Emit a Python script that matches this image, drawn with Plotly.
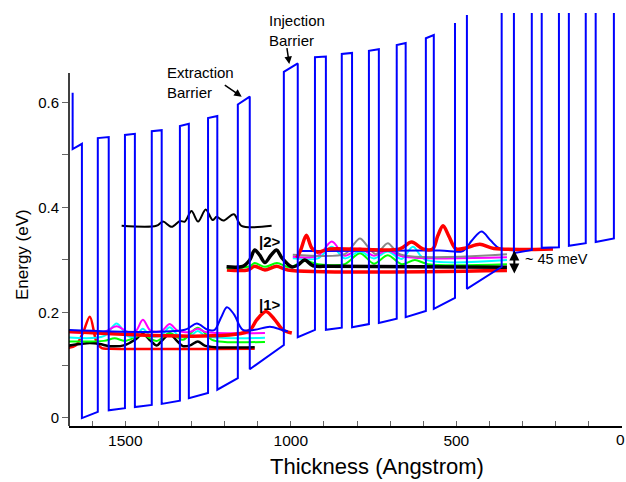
import plotly.graph_objects as go

# ---------------- data (Thickness in Angstrom, Energy in eV) ----------------
band_profile = [
    (1659, 0.618), (1659, 0.511), (1631, 0.521), (1631, -0.001), (1583, 0.011),
    (1583, 0.532), (1550, 0.534), (1550, 0.014), (1501, 0.018),
    (1501, 0.538), (1471, 0.540), (1471, 0.020), (1420, 0.024),
    (1420, 0.545), (1390, 0.547), (1390, 0.026), (1335, 0.032),
    (1335, 0.555), (1308, 0.559), (1308, 0.037), (1250, 0.047),
    (1250, 0.570), (1222, 0.574), (1222, 0.053), (1160, 0.075),
    (1160, 0.596), (1124, 0.611), (1124, 0.092), (1021, 0.138),
    (1021, 0.658), (979, 0.674), (979, 0.153), (927, 0.167),
    (927, 0.686), (894, 0.687), (894, 0.167), (846, 0.171),
    (846, 0.692), (815, 0.694), (815, 0.172), (764, 0.178),
    (764, 0.698), (734, 0.701), (734, 0.180), (680, 0.188),
    (680, 0.709), (653, 0.713), (653, 0.191), (592, 0.203),
    (592, 0.722), (568, 0.728), (568, 0.207), (504, 0.228),
    (504, 0.751), (None, None), (468, 0.766), (468, 0.245), (363, 0.287),
    (363, 0.80), (326, 0.80), (326, 0.313), (272, 0.319),
    (272, 0.80), (242, 0.80), (242, 0.323), (190, 0.324),
    (190, 0.80), (160, 0.80), (160, 0.327), (109, 0.332),
    (109, 0.80), (79, 0.80), (79, 0.334), (24, 0.341), (24, 0.80),
]

# lower states (left period)
wf_red_low = [(1680, 0.132), (1650, 0.137), (1628, 0.161), (1607, 0.192), (1586, 0.142),
              (1571, 0.132), (1547, 0.131), (1109, 0.131)]
wf_black_low = [(1680, 0.136), (1637, 0.140), (1607, 0.142), (1577, 0.140), (1547, 0.136),
                (1501, 0.138), (1471, 0.148), (1447, 0.159), (1423, 0.146), (1405, 0.137),
                (1390, 0.146), (1366, 0.159), (1344, 0.146), (1326, 0.136), (1302, 0.138),
                (1281, 0.145), (1260, 0.137), (1229, 0.134), (1109, 0.134)]
wf_green_low = [(1680, 0.145), (1565, 0.146), (1532, 0.151), (1501, 0.146), (1447, 0.157),
                (1405, 0.146), (1366, 0.161), (1326, 0.148), (1281, 0.171), (1238, 0.148),
                (1199, 0.144), (1078, 0.144)]
wf_cyan_low = [(1680, 0.153), (1565, 0.155), (1526, 0.179), (1492, 0.155), (1468, 0.155),
               (1447, 0.169), (1423, 0.155), (1390, 0.157), (1366, 0.172), (1341, 0.157),
               (1305, 0.155), (1281, 0.165), (1257, 0.155), (1078, 0.152)]
wf_magenta_low = [(1680, 0.163), (1565, 0.163), (1526, 0.174), (1492, 0.163), (1468, 0.165),
                  (1447, 0.186), (1423, 0.165), (1390, 0.165), (1366, 0.178), (1341, 0.165),
                  (1305, 0.163), (1281, 0.169), (1257, 0.163), (1078, 0.161)]
wf_red_1 = [(1680, 0.164), (1130, 0.164), (1103, 0.186), (1075, 0.202), (1048, 0.186),
            (1024, 0.167), (997, 0.161)]
wf_blue_low = [(1680, 0.167), (1320, 0.167), (1284, 0.179), (1251, 0.167), (1230, 0.167),
               (1211, 0.190), (1193, 0.210), (1172, 0.197), (1145, 0.167), (1109, 0.167),
               (1063, 0.173), (1027, 0.167), (1009, 0.164)]
wf_black_upper = [(1511, 0.365), (1406, 0.365), (1386, 0.373), (1360, 0.363), (1335, 0.374),
                  (1320, 0.373), (1300, 0.393), (1280, 0.373), (1257, 0.396), (1236, 0.376),
                  (1224, 0.382), (1204, 0.375), (1172, 0.387), (1149, 0.365), (1058, 0.365)]

# injector / upper states (right period)
wf_red_inj_low = [(1193, 0.281), (1130, 0.281), (1109, 0.288), (1078, 0.281), (1043, 0.288),
                  (1009, 0.281), (347, 0.280)]
wf_green_inj = [(1193, 0.284), (1124, 0.288), (1109, 0.294), (1078, 0.287), (1042, 0.294),
                (1003, 0.286), (958, 0.298), (918, 0.292), (837, 0.292), (791, 0.313),
                (749, 0.293), (707, 0.309), (665, 0.292), (625, 0.300), (586, 0.292), (347, 0.292)]
wf_black_2 = [(1194, 0.287), (1145, 0.288), (1124, 0.300), (1109, 0.319), (1094, 0.309),
              (1078, 0.295), (1060, 0.309), (1043, 0.319), (1027, 0.304), (998, 0.287),
              (979, 0.290), (958, 0.300), (933, 0.289), (882, 0.288), (347, 0.286)]
wf_cyan_inj = [(994, 0.303), (918, 0.303), (876, 0.325), (837, 0.303), (791, 0.316),
               (749, 0.303), (707, 0.316), (665, 0.302), (631, 0.325), (595, 0.301), (347, 0.300)]
wf_magenta_inj = [(994, 0.306), (918, 0.308), (876, 0.335), (837, 0.308), (791, 0.322),
                  (749, 0.308), (707, 0.319), (665, 0.307), (347, 0.305)]
wf_gray_inj = [(994, 0.310), (837, 0.311), (816, 0.325), (791, 0.341), (767, 0.325),
               (743, 0.311), (707, 0.332), (671, 0.311), (347, 0.311)]
wf_blue_inj = [(973, 0.317), (550, 0.318), (480, 0.317), (453, 0.337), (424, 0.354),
               (396, 0.337), (369, 0.322), (233, 0.320)]
wf_red_inj_top = [(982, 0.304), (970, 0.319), (953, 0.347), (937, 0.323), (921, 0.315),
                  (882, 0.321), (671, 0.321), (635, 0.334), (601, 0.321), (571, 0.321),
                  (556, 0.346), (540, 0.365), (523, 0.346), (501, 0.321), (471, 0.323),
                  (429, 0.330), (387, 0.322), (208, 0.321)]

x_major_ticks = [1500, 1000, 500]
x_end_label = "0"
y_major_ticks = [0, 0.2, 0.4, 0.6]

# ---------------- figure ----------------
W, H = 626, 482
ML, MR, MT, MB = 69, 4, 13, 56
PW, PH = W - ML - MR, H - MT - MB
FONT = "Liberation Sans, Arial, Helvetica, sans-serif"
XMAX, XMIN = 1670, -0.5


def px(xp):
    return (xp - ML) / PW


def py(yp):
    return (H - MB - yp) / PH


fig = go.Figure()


def add_line(points, color, width, spline=True):
    xs = [p[0] for p in points]
    ys = [p[1] for p in points]
    fig.add_trace(go.Scatter(
        x=xs, y=ys, mode="lines", showlegend=False, hoverinfo="skip",
        line=dict(color=color, width=width, shape="spline" if spline else "linear",
                  smoothing=0.9 if spline else 0),
        connectgaps=False,
    ))


RED, BLUE, MAG, CYAN, GREEN, GRAY = "#ff0000", "#0000ff", "#ff00ff", "#00ffff", "#00ff00", "#888888"

add_line(wf_red_low, RED, 2.5)
add_line(wf_black_low, "black", 2.5)
add_line(wf_green_low, GREEN, 2)
add_line(wf_cyan_low, CYAN, 2)
add_line(wf_magenta_low, MAG, 2)
add_line(wf_red_1, RED, 3.5)
add_line(wf_blue_low, BLUE, 2)
add_line(wf_black_upper, "black", 2)

add_line(wf_red_inj_low, RED, 3.5)
add_line(wf_green_inj, GREEN, 2)
add_line(wf_cyan_inj, CYAN, 2)
add_line(wf_magenta_inj, MAG, 2)
add_line(wf_gray_inj, GRAY, 2)
add_line(wf_black_2, "black", 3.5)
add_line(wf_blue_inj, BLUE, 2)
add_line(wf_red_inj_top, RED, 3.5)

add_line(band_profile, BLUE, 2, spline=False)

x_tickvals = list(range(0, 1700, 100))
x_ticktext = [str(v) if v in x_major_ticks else "" for v in x_tickvals]
y_tickvals = [0, 0.1, 0.2, 0.3, 0.4, 0.5, 0.6]
y_ticktext = [("0" if v == 0 else str(v)) if v in y_major_ticks else "" for v in y_tickvals]

fig.update_layout(
    width=W, height=H,
    margin=dict(l=ML, r=MR, t=MT, b=MB),
    paper_bgcolor="white", plot_bgcolor="white",
    font=dict(family=FONT, size=15, color="black"),
    xaxis=dict(range=[XMAX, XMIN], showgrid=False, zeroline=False,
               showline=True, linecolor="black", linewidth=1.5,
               tickmode="array", tickvals=x_tickvals, ticktext=x_ticktext,
               ticks="inside", ticklen=5, tickcolor="#666", tickwidth=1,
               tickfont=dict(size=15.5, family=FONT)),
    yaxis=dict(range=[-0.016, 0.770], showgrid=False, zeroline=False,
               showline=False,
               tickmode="array", tickvals=y_tickvals, ticktext=y_ticktext,
               ticks="outside", ticklen=6, tickcolor="#666", tickwidth=1,
               tickfont=dict(size=15, family=FONT)),
)

# partial y spine (stops at ~0.656 eV like the reference)
fig.add_shape(type="line", xref="paper", yref="paper",
              x0=0, x1=0, y0=0, y1=py(73), line=dict(color="black", width=1.5))

ann = []
ann.append(dict(text=x_end_label, x=px(620), y=py(439.5), xref="paper", yref="paper",
                showarrow=False, font=dict(size=15.5, family=FONT), xanchor="center", yanchor="middle"))
ann.append(dict(text="Thickness (Angstrom)", x=px(377), y=py(467), xref="paper", yref="paper",
                showarrow=False, font=dict(size=22, family=FONT), xanchor="center", yanchor="middle"))
ann.append(dict(text="Energy (eV)", x=px(22), y=py(255), xref="paper", yref="paper",
                showarrow=False, textangle=-90, font=dict(size=17, family=FONT),
                xanchor="center", yanchor="middle"))
ann.append(dict(text="Extraction<br>Barrier", x=px(165), y=py(82.5), xref="paper", yref="paper",
                showarrow=False, align="left", xanchor="left", yanchor="middle",
                font=dict(size=15, family=FONT)))
ann.append(dict(text="", x=px(241.7), y=py(96.7), xref="paper", yref="paper",
                showarrow=True, ax=-18.4, ay=-12.7, arrowhead=2, arrowsize=1,
                arrowwidth=1.5, arrowcolor="black"))
ann.append(dict(text="Injection<br>Barrier", x=px(267), y=py(30.5), xref="paper", yref="paper",
                showarrow=False, align="left", xanchor="left", yanchor="middle",
                font=dict(size=15, family=FONT)))
ann.append(dict(text="", x=px(289.3), y=py(64), xref="paper", yref="paper",
                showarrow=True, ax=-2.6, ay=-17.3, arrowhead=2, arrowsize=1,
                arrowwidth=1.5, arrowcolor="black"))
ann.append(dict(text="<b>|2&gt;</b>", x=px(257), y=py(241), xref="paper", yref="paper",
                showarrow=False, xanchor="left", yanchor="middle", font=dict(size=15, family=FONT)))
ann.append(dict(text="<b>|1&gt;</b>", x=px(257), y=py(304), xref="paper", yref="paper",
                showarrow=False, xanchor="left", yanchor="middle", font=dict(size=15, family=FONT)))
ann.append(dict(text="~ 45 meV", x=px(523), y=py(259), xref="paper", yref="paper",
                showarrow=False, xanchor="left", yanchor="middle", font=dict(size=14.5, family=FONT)))
ann.append(dict(text="", x=px(514.3), y=py(273.5), xref="paper", yref="paper",
                showarrow=True, ax=0, ay=-24.5, arrowhead=2, startarrowhead=2,
                arrowside="end+start", arrowsize=1, startarrowsize=1,
                arrowwidth=2, arrowcolor="black"))
fig.update_layout(annotations=ann)

fig.write_html("out.html", config={"displayModeBar": False},
               post_script="document.body.style.margin='0px';")
